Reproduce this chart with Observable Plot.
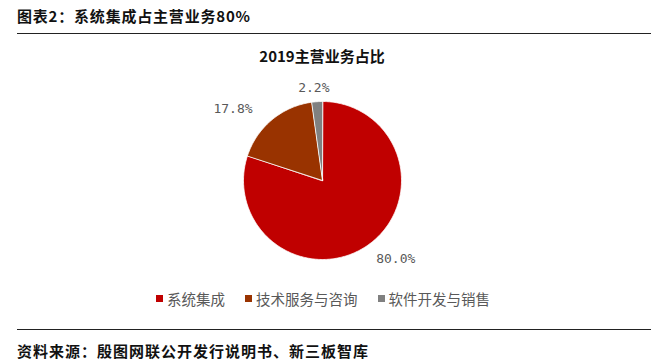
<!DOCTYPE html>
<html><head><meta charset="utf-8">
<script src="https://cdn.jsdelivr.net/npm/d3@7"></script>
<script src="https://cdn.jsdelivr.net/npm/@observablehq/plot@0.6"></script>
<style>
body{margin:0;background:#fff;}
#wrap{position:relative;width:660px;height:363px;overflow:hidden;font-family:"Noto Sans CJK SC",sans-serif;}
#title{position:absolute;left:17px;top:5px;font-size:15px;font-weight:bold;color:#111;letter-spacing:0.8px;white-space:nowrap;}
.rule{position:absolute;left:17px;width:634px;height:0;border-top:1.5px solid #222;}
#ctitle{position:absolute;left:0;width:644px;top:45px;text-align:center;font-size:15px;font-weight:bold;color:#111;}
#chart{position:absolute;left:0;top:40px;}
#legend{position:absolute;left:0;width:660px;top:288px;display:flex;justify-content:center;font-size:14.5px;color:#595959;white-space:nowrap;padding-right:14px;box-sizing:border-box;}
#legend .item{display:flex;align-items:center;margin:0 10px;}
#legend .sw{width:7px;height:7px;margin-right:4px;}
#foot{position:absolute;left:17px;top:340px;font-size:15px;font-weight:bold;color:#111;letter-spacing:1px;white-space:nowrap;}
</style></head>
<body>
<div id="wrap">
  <div id="title"></div>
  <div class="rule" style="top:33px"></div>
  <div id="ctitle"></div>
  <div id="chart"></div>
  <div id="legend"></div>
  <div class="rule" style="top:329px"></div>
  <div id="foot"></div>
</div>
<script>
const mainTitle = "图表2：系统集成占主营业务80%";
const chartTitle = "2019主营业务占比";
const source = "资料来源：殷图网联公开发行说明书、新三板智库";
const categories = ["系统集成", "技术服务与咨询", "软件开发与销售"];
const shares = [80.0, 17.8, 2.2];
const labels = ["80.0%", "17.8%", "2.2%"];
const colors = ["#C00000", "#993300", "#808080"];

document.getElementById("title").textContent = mainTitle;
document.getElementById("ctitle").textContent = chartTitle;
document.getElementById("foot").textContent = source;

const arcs = d3.pie().sort(null).value(d => d)(shares);
const pts = [];
arcs.forEach((a, i) => {
  const cat = categories[i];
  pts.push({cat, x: 0, y: 0});
  const n = Math.max(2, Math.ceil((a.endAngle - a.startAngle) / (Math.PI / 180)));
  for (let k = 0; k <= n; k++) {
    const t = a.startAngle + (a.endAngle - a.startAngle) * k / n;
    pts.push({cat, x: Math.sin(t), y: Math.cos(t)});
  }
});
const lr = 1.22;
const labelPts = arcs.map((a, i) => {
  const m = (a.startAngle + a.endAngle) / 2;
  const s = Math.sin(m);
  return {label: labels[i], x: s * lr, y: Math.cos(m) * lr,
          anchor: s > 0.2 ? "start" : s < -0.2 ? "end" : "middle"};
});

const cx = 322, cy = 140, r = 79;
const lbl = {x: "x", y: "y", text: "label", fill: "#595959", fontSize: 13, fontFamily: "DejaVu Sans Mono"};
const plot = Plot.plot({
  width: 660, height: 250, margin: 0,
  x: {domain: [-1, 1], range: [cx - r, cx + r], axis: null},
  y: {domain: [-1, 1], range: [cy + r, cy - r], axis: null},
  color: {domain: categories, range: colors},
  marks: [
    Plot.line(pts, {x: "x", y: "y", z: "cat", fill: "cat", stroke: "white", strokeWidth: 0.8, curve: "linear-closed"}),
    Plot.text(labelPts.filter(d => d.anchor === "start"), {...lbl, textAnchor: "start", dx: -3, dy: 0}),
    Plot.text(labelPts.filter(d => d.anchor === "end"), {...lbl, textAnchor: "end", dx: -8, dy: 2}),
    Plot.text(labelPts.filter(d => d.anchor === "middle"), {...lbl, textAnchor: "middle", dx: -2, dy: 3})
  ]
});
document.getElementById("chart").appendChild(plot);

const leg = document.getElementById("legend");
categories.forEach((c, i) => {
  const it = document.createElement("div");
  it.className = "item";
  const sw = document.createElement("span");
  sw.className = "sw";
  sw.style.background = colors[i];
  const tx = document.createElement("span");
  tx.textContent = c;
  it.appendChild(sw); it.appendChild(tx);
  leg.appendChild(it);
});
</script>
</body></html>
